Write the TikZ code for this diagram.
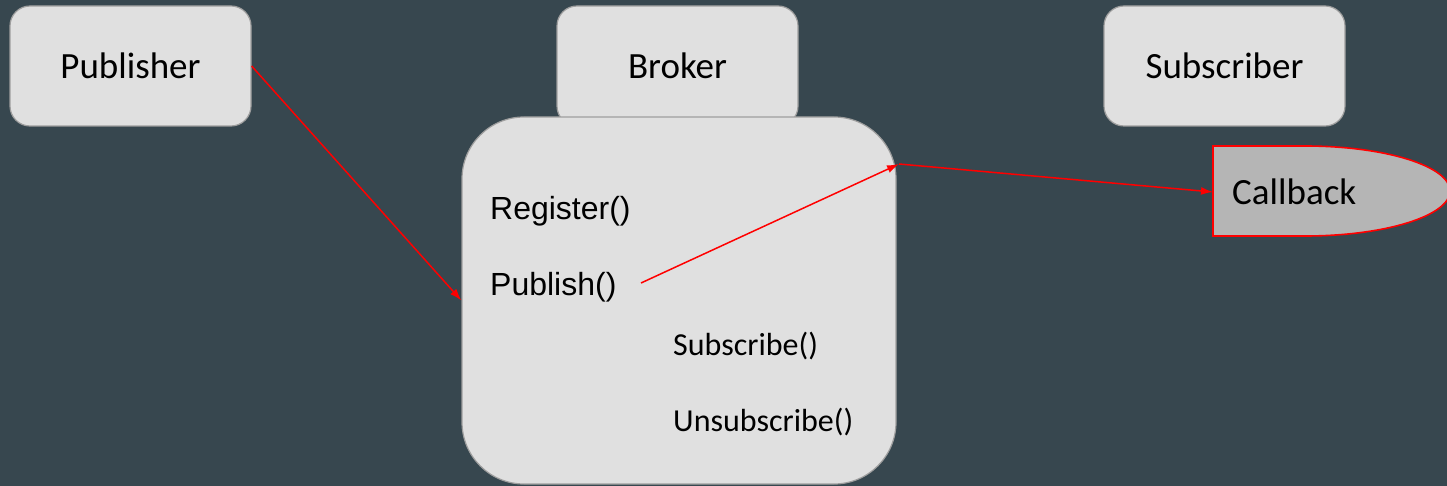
\documentclass[tikz,border=0pt]{standalone}
\usepackage{fontspec}
\setmainfont{Carlito}
\newfontfamily\arialish{Liberation Sans}
\usetikzlibrary{arrows.meta}
\definecolor{bgslate}{HTML}{37474F}
\definecolor{boxfill}{HTML}{E0E0E0}
\definecolor{boxline}{HTML}{9E9E9E}
\definecolor{cbfill}{HTML}{B5B5B5}
\tikzset{
  actor/.style={draw=boxline, line width=1.2pt, fill=boxfill, rounded corners=20pt,
    minimum width=241pt, minimum height=120pt, inner sep=0pt,
    font=\fontsize{37}{44}\selectfont},
  method/.style={anchor=base west, inner sep=0pt, font=\arialish\fontsize{32}{38}\selectfont},
  subop/.style={anchor=base west, inner sep=0pt, font=\fontsize{32}{38}\selectfont},
  flow/.style={draw=red, line width=1.5pt, -{Latex[length=12pt,width=8pt]}}
}
\begin{document}
\begin{tikzpicture}[x=1pt, y=-1pt]
  \useasboundingbox (0,0) rectangle (1447,486);
  \fill[bgslate] (0,0) rectangle (1447,486);

  % participants
  \node[actor] (publisher) at (130.5,66) {Publisher};
  \node[actor] (broker) at (677.5,66) {Broker};
  \node[actor] (subscriber) at (1224.5,66) {Subscriber};

  % broker body with its operations
  \node[draw=boxline, line width=1.2pt, fill=boxfill, rounded corners=62pt,
        minimum width=434pt, minimum height=367pt, inner sep=0pt] (body) at (679,300.5) {};
  \node[method] (register) at (490,220) {Register()};
  \node[method] (publish) at (490,295) {Publish()};
  \node[subop] (subscribe) at (673,355) {Subscribe()};
  \node[subop] (unsubscribe) at (673,431) {Unsubscribe()};

  % callback on the subscriber side
  \fill[cbfill, draw=red, line width=1.6pt]
    (1213,146) -- (1305,146) arc[start angle=-90, end angle=90, x radius=145, y radius=45]
    -- (1213,236) -- cycle;
  \node[anchor=west, inner sep=0pt, font=\fontsize{37}{44}\selectfont] (callback) at (1213,192) {\hspace{19pt}Callback};

  % message flow
  \coordinate (pubout) at (641,283);
  \coordinate (hub) at (899,164);
  \draw[flow] (publisher.east) -- (body.west);
  \draw[flow] (pubout) -- (hub);
  \draw[flow] (hub) -- (callback.west);
\end{tikzpicture}
\end{document}
